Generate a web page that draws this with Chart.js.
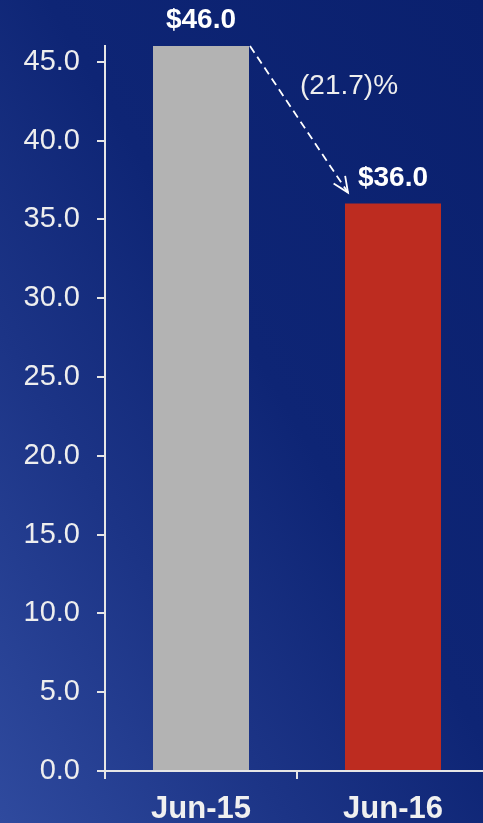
<!DOCTYPE html>
<html>
<head>
<meta charset="utf-8">
<script src="https://cdn.jsdelivr.net/npm/chart.js@4/dist/chart.umd.min.js"></script>
<style>
  html, body { margin: 0; padding: 0; width: 483px; height: 823px; overflow: hidden; }
  body { background: linear-gradient(to top right, #2f4a9e 0%, #1c3486 30%, #0e2575 55%, #0a206e 100%); }
  canvas { display: block; }
</style>
</head>
<body>
<canvas id="c" width="489" height="823"></canvas>
<script>
const categories = ["Jun-15", "Jun-16"];
const values = [46.0, 36.0];
const barColors = ["#b3b3b3", "#bd2c20"];
const yTicks = [0, 5, 10, 15, 20, 25, 30, 35, 40, 45];

const FONT = "'Liberation Sans', Arial, sans-serif";
const changePct = (values[1] - values[0]) / values[0] * 100;
const changeLabel = changePct < 0 ? "(" + Math.abs(changePct).toFixed(1) + ")%" : changePct.toFixed(1) + "%";

const annotations = {
  id: "annotations",
  afterDatasetsDraw(chart) {
    const ctx = chart.ctx;
    const bars = chart.getDatasetMeta(0).data;
    ctx.save();
    // value labels
    ctx.fillStyle = "#ffffff";
    ctx.font = "bold 28px " + FONT;
    ctx.textAlign = "center";
    ctx.textBaseline = "alphabetic";
    bars.forEach((b, i) => {
      ctx.fillText("$" + values[i].toFixed(1), b.x, b.y - 18);
    });
    // dashed arrow
    const b0 = bars[0], b1 = bars[1];
    const sx = b0.x + b0.width / 2 + 1, sy = b0.y;
    const ex = b1.x - b1.width / 2 + 3, ey = b1.y - 11;
    ctx.strokeStyle = "#ffffff";
    ctx.lineWidth = 1.8;
    ctx.setLineDash([8, 5]);
    ctx.beginPath();
    ctx.moveTo(sx, sy);
    ctx.lineTo(ex, ey);
    ctx.stroke();
    ctx.setLineDash([]);
    const ang = Math.atan2(ey - sy, ex - sx);
    const hl = 17, ha = 0.42;
    ctx.beginPath();
    ctx.moveTo(ex - hl * Math.cos(ang - ha), ey - hl * Math.sin(ang - ha));
    ctx.lineTo(ex, ey);
    ctx.lineTo(ex - hl * Math.cos(ang + ha), ey - hl * Math.sin(ang + ha));
    ctx.stroke();
    // change label
    ctx.font = "28px " + FONT;
    ctx.fillStyle = "#eeeeee";
    ctx.textAlign = "left";
    ctx.fillText(changeLabel, sx + 50, sy + 48);
    ctx.restore();
  }
};

new Chart(document.getElementById("c"), {
  type: "bar",
  data: {
    labels: categories,
    datasets: [{
      data: values,
      backgroundColor: barColors,
      borderWidth: 0,
      barPercentage: 0.5,
      categoryPercentage: 1.0
    }]
  },
  options: {
    responsive: false,
    animation: false,
    devicePixelRatio: 1,
    layout: { padding: { top: 46, left: 0, right: 0, bottom: 0 } },
    plugins: { legend: { display: false }, tooltip: { enabled: false } },
    scales: {
      x: {
        grid: { display: true, drawOnChartArea: false, drawTicks: true, tickLength: 8, color: "#e6e6e6", lineWidth: 2, offset: true },
        border: { display: true, color: "#e6e6e6", width: 2 },
        ticks: { color: "#f0f0f0", font: { family: FONT, size: 31, weight: "bold" }, padding: 12, maxRotation: 0 },
        afterFit(scale) { scale.height = 52; }
      },
      y: {
        min: 0,
        max: 46,
        afterBuildTicks(scale) { scale.ticks = yTicks.map(v => ({ value: v })); },
        grid: { display: true, drawOnChartArea: false, drawTicks: true, tickLength: 8, color: "#e6e6e6", lineWidth: 2 },
        border: { display: true, color: "#e6e6e6", width: 2 },
        ticks: { color: "#eeeeee", font: { family: FONT, size: 29 }, padding: 17, callback: v => Number(v).toFixed(1) },
        afterFit(scale) { scale.width = 105; }
      }
    }
  },
  plugins: [annotations]
});
</script>
</body>
</html>
